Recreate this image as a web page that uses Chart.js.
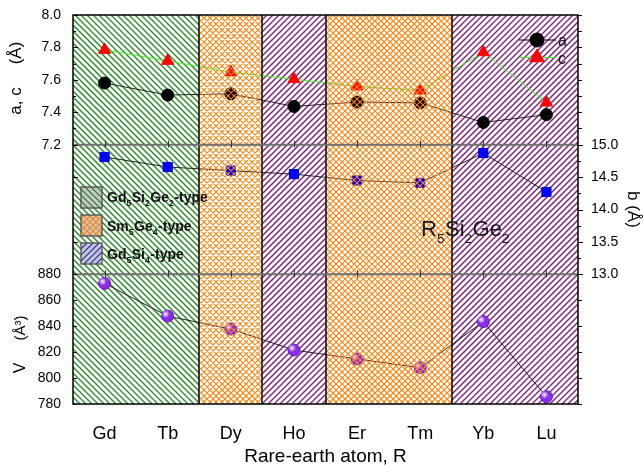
<!DOCTYPE html>
<html>
<head>
<meta charset="utf-8">
<script src="https://cdn.jsdelivr.net/npm/chart.js@4/dist/chart.umd.min.js"></script>
<style>
  html, body { margin: 0; padding: 0; background: #fff; overflow: hidden; }
  canvas { display: block; }
</style>
</head>
<body>
<canvas id="chart" width="643" height="467"></canvas>
<script>
// Rare-earth series and their crystal structure type
const categories = ['Gd', 'Tb', 'Dy', 'Ho', 'Er', 'Tm', 'Yb', 'Lu'];
const structureTypes = ['Gd5Si2Ge2', 'Gd5Si2Ge2', 'Sm5Ge4', 'Gd5Si4', 'Sm5Ge4', 'Sm5Ge4', 'Gd5Si4', 'Gd5Si4'];

// Lattice parameters (Å) and unit-cell volume (Å^3)
const latticeA = [7.580, 7.506, 7.514, 7.436, 7.463, 7.458, 7.337, 7.385];
const latticeC = [7.785, 7.717, 7.647, 7.604, 7.559, 7.534, 7.770, 7.460];
const latticeB = [14.81, 14.655, 14.60, 14.545, 14.447, 14.41, 14.87, 14.27];
const cellVolume = [873.0, 847.8, 837.8, 821.6, 814.7, 808.0, 843.5, 785.6];

// Axis tick values of the three stacked panels
const acTicks = [7.2, 7.4, 7.6, 7.8, 8.0];
const bTicks = [13.0, 13.5, 14.0, 14.5, 15.0];
const vTicks = [780, 800, 820, 840, 860, 880];

const FONT = "'Liberation Sans', Arial, Helvetica, sans-serif";

const hatchStyles = {
  Gd5Si2Ge2: { dirs: [-1], color: '#258a25', width: 1.3, gap: 6, overlay: false },
  Sm5Ge4:    { dirs: [1, -1], color: '#ff8410', width: 1.15, gap: 6, overlay: true },
  Gd5Si4:    { dirs: [1], color: '#7e1c7e', width: 1.3, gap: 6, overlay: false }
};
const legendHatch = {
  Gd5Si2Ge2: { dirs: [-1], color: '#1f7f1f', width: 1.1, gap: 6 },
  Sm5Ge4:    { dirs: [1, -1], color: '#ff8410', width: 1.1, gap: 6 },
  Gd5Si4:    { dirs: [1], color: '#2424d0', width: 1.1, gap: 6 }
};

function midpoints(arr) {
  const out = [];
  for (let i = 1; i < arr.length; i++) out.push((arr[i - 1] + arr[i]) / 2);
  return out;
}

function yAxis(ticks, position, stack, showLabels, fmt, width, pad) {
  return {
    type: 'linear', position: position, stack: stack, stackWeight: 1,
    min: ticks[0], max: ticks[ticks.length - 1],
    grid: { display: false }, border: { display: false },
    ticks: {
      display: showLabels, autoSkip: false, padding: pad, color: '#000',
      font: { family: FONT, size: 14 },
      callback: v => fmt(v)
    },
    afterBuildTicks: s => { s.ticks = ticks.map(v => ({ value: v })); },
    afterFit: s => { s.width = width; }
  };
}
const f1 = v => Number(v).toFixed(1);
const f0 = v => String(Math.round(v));

// Diagonal line hatching clipped to a rectangle, lines locked to a global grid
function hatch(ctx, x, y, w, h, style) {
  ctx.save();
  ctx.beginPath();
  ctx.rect(x, y, w, h);
  ctx.clip();
  ctx.strokeStyle = style.color;
  ctx.lineWidth = style.width;
  ctx.beginPath();
  const g = style.gap;
  for (const d of style.dirs) {
    if (d > 0) {
      // '/' lines: x + y = k
      const kStart = Math.floor((x + y) / g) * g, kEnd = x + w + y + h + g;
      for (let k = kStart; k <= kEnd; k += g) {
        ctx.moveTo(k - y, y); ctx.lineTo(k - (y + h), y + h);
      }
    } else {
      // '\' lines: x - y = k
      const kStart = Math.floor((x - (y + h)) / g) * g, kEnd = x + w - y + g;
      for (let k = kStart; k <= kEnd; k += g) {
        ctx.moveTo(k + y, y); ctx.lineTo(k + y + h, y + h);
      }
    }
  }
  ctx.stroke();
  ctx.restore();
}

function regions(chart) {
  const xs = chart.scales.x;
  const half = (xs.getPixelForValue(1) - xs.getPixelForValue(0)) / 2;
  const out = [];
  structureTypes.forEach((t, i) => {
    const c = xs.getPixelForValue(i);
    const last = out[out.length - 1];
    if (last && last.type === t) last.r = c + half;
    else out.push({ type: t, l: c - half, r: c + half });
  });
  return out;
}

// Draws text with digits as subscripts, e.g. Gd5Si2Ge2
function formulaText(ctx, formula, x, y, size, weight) {
  const parts = formula.match(/[A-Za-z\-]+|\d+/g);
  for (const p of parts) {
    const sub = /^\d+$/.test(p);
    const s = sub ? size * 0.62 : size;
    ctx.font = `${weight} ${s}px ${FONT}`;
    ctx.fillText(p, x, y + (sub ? size * 0.3 : 0));
    x += ctx.measureText(p).width + (sub ? 0.5 : 0);
  }
  return x;
}

function ticksAt(ctx, scale, values, xEdge, len) {
  for (const v of values) {
    const y = Math.round(scale.getPixelForValue(v)) + 0.5;
    ctx.moveTo(xEdge, y);
    ctx.lineTo(xEdge + len, y);
  }
}

const decor = {
  id: 'decor',
  beforeDatasetsDraw(chart) {
    const ctx = chart.ctx, a = chart.chartArea;
    for (const r of regions(chart)) {
      const st = hatchStyles[r.type];
      if (!st.overlay) hatch(ctx, r.l, a.top, r.r - r.l, a.bottom - a.top, st);
    }
  },
  afterDatasetsDraw(chart) {
    const ctx = chart.ctx, a = chart.chartArea;
    const sAC = chart.scales.yAC, sB = chart.scales.yB, sV = chart.scales.yV;

    // glossy highlight on the volume spheres
    const vMeta = chart.getDatasetMeta(3);
    ctx.save();
    for (const p of vMeta.data) {
      const g = ctx.createRadialGradient(p.x - 2, p.y - 2, 0.5, p.x - 2, p.y - 2, 4);
      g.addColorStop(0, 'rgba(255,255,255,0.85)');
      g.addColorStop(1, 'rgba(255,255,255,0)');
      ctx.fillStyle = g;
      ctx.beginPath();
      ctx.arc(p.x - 2, p.y - 2, 4, 0, Math.PI * 2);
      ctx.fill();
    }
    ctx.restore();

    const regs = regions(chart);
    for (const r of regs) {
      const st = hatchStyles[r.type];
      if (st.overlay) hatch(ctx, r.l, a.top, r.r - r.l, a.bottom - a.top, st);
    }

    ctx.save();
    // region boundaries
    ctx.strokeStyle = '#111';
    ctx.lineWidth = 1.6;
    ctx.beginPath();
    for (let i = 1; i < regs.length; i++) {
      const x = Math.round(regs[i].l);
      ctx.moveTo(x, a.top); ctx.lineTo(x, a.bottom);
    }
    ctx.stroke();

    // panel separators
    const sep = [sAC.bottom, sB.bottom];
    ctx.strokeStyle = '#707070';
    ctx.lineWidth = 2;
    ctx.beginPath();
    for (const y of sep) { ctx.moveTo(a.left, y); ctx.lineTo(a.right, y); }
    ctx.stroke();

    // category ticks on separators
    ctx.strokeStyle = '#333';
    ctx.lineWidth = 1;
    ctx.beginPath();
    const xs = chart.scales.x;
    categories.forEach((c, i) => {
      const x = Math.round(xs.getPixelForValue(i)) + 0.5;
      for (const y of sep) { ctx.moveTo(x, y - 4); ctx.lineTo(x, y + 3); }
    });
    ctx.stroke();

    // frame
    ctx.strokeStyle = '#000';
    ctx.lineWidth = 1.5;
    ctx.strokeRect(a.left, a.top, a.right - a.left, a.bottom - a.top);

    // axis tick marks: inward on the left, outward on the right
    ctx.lineWidth = 1;
    ctx.strokeStyle = '#000';
    ctx.beginPath();
    ticksAt(ctx, sAC, acTicks, a.left, 5);
    ticksAt(ctx, sAC, midpoints(acTicks), a.left, 3);
    ticksAt(ctx, sB, [14.5, 13.5], a.left, 5);
    ticksAt(ctx, sV, vTicks, a.left, 4);
    ticksAt(ctx, sAC, acTicks.concat(midpoints(acTicks)), a.right, 4);
    ticksAt(ctx, sB, bTicks, a.right, 5);
    ticksAt(ctx, sB, midpoints(bTicks), a.right, 3);
    ticksAt(ctx, sV, vTicks, a.right, 4);
    ctx.stroke();

    // structure-type key
    const types = [...new Set(structureTypes)];
    const keyTop = [187, 215, 243];
    const keyBase = [201.5, 230.5, 258.5];
    types.forEach((t, i) => {
      const bx = 81, by = keyTop[i], bw = 21, bh = 21;
      ctx.fillStyle = '#c8c8c8';
      ctx.fillRect(bx, by, bw, bh);
      hatch(ctx, bx, by, bw, bh, legendHatch[t]);
      ctx.strokeStyle = '#555';
      ctx.lineWidth = 1.4;
      ctx.strokeRect(bx, by, bw, bh);
      ctx.fillStyle = '#111';
      ctx.textAlign = 'left';
      ctx.textBaseline = 'alphabetic';
      formulaText(ctx, t + '-type', 107, keyBase[i], 14, 'bold');
    });

    // compound label
    ctx.fillStyle = '#1a1a1a';
    formulaText(ctx, 'R5Si2Ge2', 421, 236, 22, 'normal');

    // series key
    const keyX = 537;
    ctx.lineWidth = 1;
    ctx.strokeStyle = '#000';
    ctx.beginPath(); ctx.moveTo(519, 40); ctx.lineTo(556, 40); ctx.stroke();
    ctx.fillStyle = '#000';
    Chart.helpers.drawPoint(ctx, { pointStyle: 'circle', rotation: 0, radius: 7, borderWidth: 1 }, keyX, 40);
    ctx.strokeStyle = '#44ee22';
    ctx.beginPath(); ctx.moveTo(519, 57.5); ctx.lineTo(556, 57.5); ctx.stroke();
    ctx.fillStyle = '#ff0000';
    ctx.strokeStyle = '#ff0000';
    Chart.helpers.drawPoint(ctx, { pointStyle: 'triangle', rotation: 0, radius: 8.5, borderWidth: 1 }, keyX, 57.5);
    ctx.fillStyle = '#111';
    ctx.font = `16px ${FONT}`;
    ctx.fillText('a', 558, 45.5);
    ctx.fillText('c', 558, 63.5);

    // axis titles
    ctx.fillStyle = '#000';
    ctx.textAlign = 'center';
    ctx.textBaseline = 'alphabetic';
    const rotText = (txt, cy, baseX, angle, size) => {
      ctx.save();
      ctx.translate(baseX, cy);
      ctx.rotate(angle);
      ctx.font = `${size}px ${FONT}`;
      ctx.fillText(txt, 0, 0);
      ctx.restore();
    };
    rotText('a, c', 101, 21, -Math.PI / 2, 17);
    rotText('(Å)', 53, 21, -Math.PI / 2, 17);
    rotText('V', 368, 25, -Math.PI / 2, 16);
    rotText('(Å³)', 328, 25, -Math.PI / 2, 15);
    ctx.save();
    ctx.translate(628, 191);
    ctx.rotate(Math.PI / 2);
    ctx.textAlign = 'left';
    ctx.font = `17px ${FONT}`;
    ctx.fillText('b (Å)', 0, 0);
    ctx.restore();

    ctx.font = `19px ${FONT}`;
    ctx.textAlign = 'center';
    ctx.fillText('Rare-earth atom, R', (a.left + a.right) / 2, 462);
    ctx.restore();
  }
};

new Chart(document.getElementById('chart'), {
  type: 'line',
  data: {
    labels: categories,
    datasets: [
      { label: 'a', data: latticeA, yAxisID: 'yAC', borderColor: '#222', borderWidth: 1,
        pointStyle: 'circle', pointRadius: 6, pointBackgroundColor: '#000', pointBorderColor: '#000' },
      { label: 'c', data: latticeC, yAxisID: 'yAC', borderColor: '#44ee22', borderWidth: 1,
        pointStyle: 'triangle', pointRadius: 7, pointBackgroundColor: '#ff0000', pointBorderColor: '#ff0000' },
      { label: 'b', data: latticeB, yAxisID: 'yB', borderColor: '#222', borderWidth: 1,
        pointStyle: 'rect', pointRadius: 6.5, pointBackgroundColor: '#0000ff', pointBorderColor: '#0000cc' },
      { label: 'V', data: cellVolume, yAxisID: 'yV', borderColor: '#222', borderWidth: 1,
        pointStyle: 'circle', pointRadius: 6, pointBackgroundColor: '#8a2be6', pointBorderColor: '#6a1cc0' }
    ]
  },
  options: {
    responsive: false,
    animation: false,
    devicePixelRatio: 1,
    layout: { padding: { top: 15, left: 0, right: 0, bottom: 0 } },
    plugins: { legend: { display: false }, tooltip: { enabled: false } },
    elements: { line: { tension: 0 } },
    scales: {
      x: {
        type: 'category', offset: true,
        grid: { display: false }, border: { display: false },
        ticks: { color: '#000', padding: 11, font: { family: FONT, size: 18 } },
        afterFit: s => { s.height = 63; }
      },
      // left stack (last defined sits on top)
      yV:  yAxis(vTicks, 'left', 'left', true, f0, 73, 4),
      yBL: yAxis(bTicks, 'left', 'left', false, f1, 73, 4),
      yAC: yAxis(acTicks, 'left', 'left', true, f1, 73, 4),
      // right stack (first defined sits on top)
      rAC: yAxis(acTicks, 'right', 'right', false, f1, 65, 5),
      yB:  yAxis(bTicks, 'right', 'right', true, f1, 65, 5),
      rV:  yAxis(vTicks, 'right', 'right', false, f0, 65, 5)
    }
  },
  plugins: [decor]
});
</script>
</body>
</html>
